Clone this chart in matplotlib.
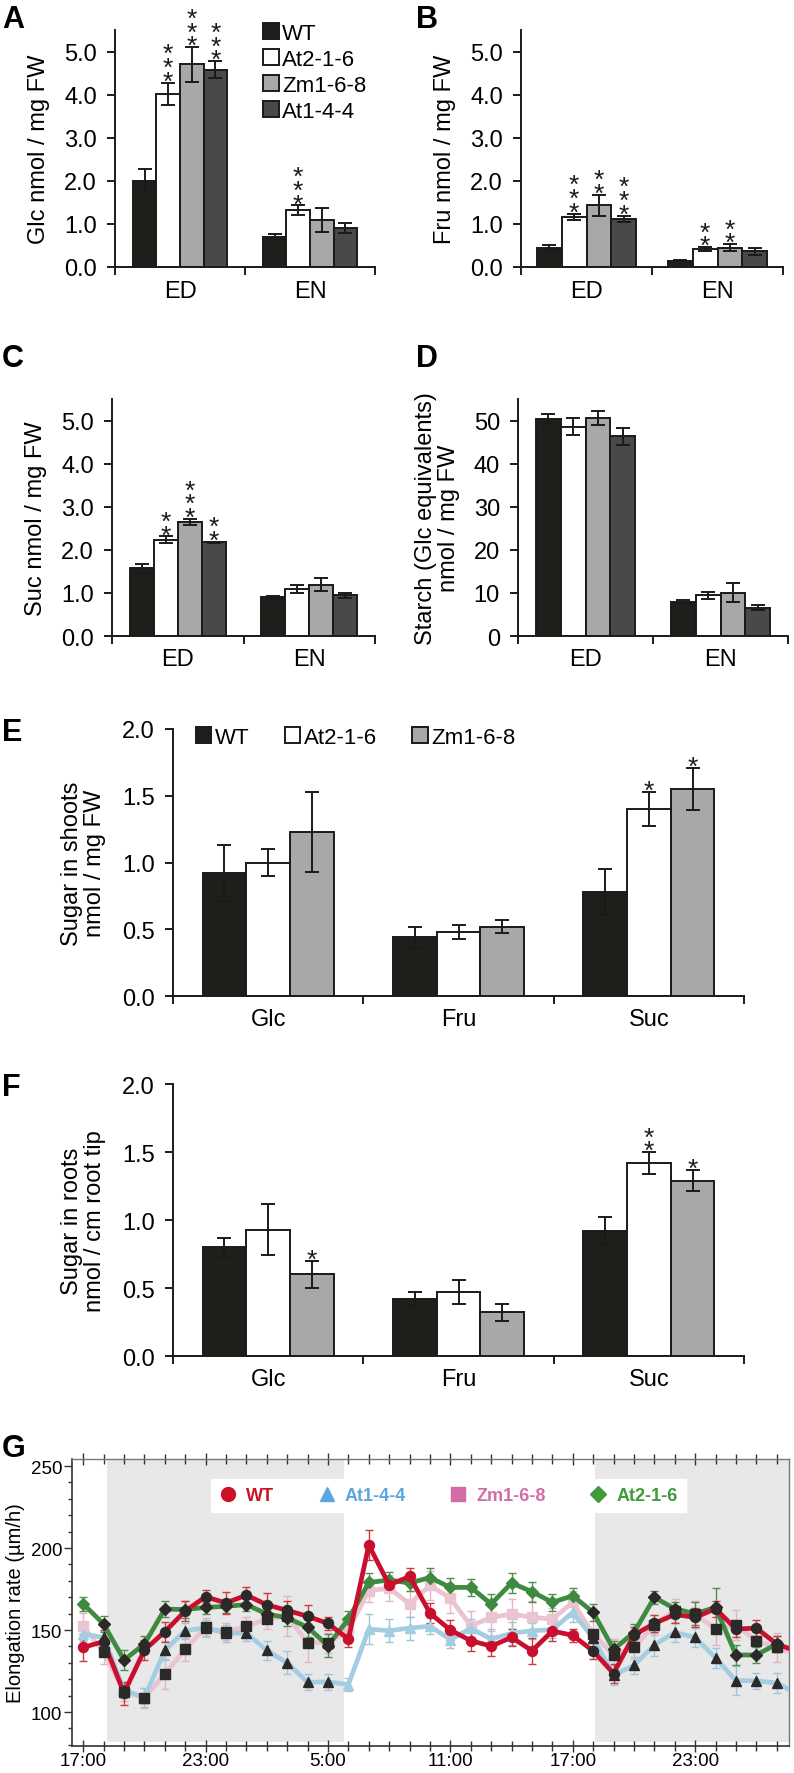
import numpy as np
import matplotlib
matplotlib.use('Agg')
import matplotlib.pyplot as plt
from matplotlib.lines import Line2D
from matplotlib.ticker import MultipleLocator

plt.rcParams['font.family'] = ['Liberation Sans', 'DejaVu Sans']

W, H = 794, 1774

# ---------------- data ----------------
# A-D: leaf sugars at end of day (ED) / end of night (EN)
leaf_lines = ['WT', 'At2-1-6', 'Zm1-6-8', 'At1-4-4']
periods = ['ED', 'EN']

glc = [[2.00, 4.02, 4.70, 4.58], [0.70, 1.32, 1.10, 0.90]]
glc_err = [[0.27, 0.26, 0.40, 0.20], [0.07, 0.11, 0.28, 0.11]]
glc_stars = [[0, 3, 3, 3], [0, 3, 0, 0]]

fru = [[0.45, 1.17, 1.43, 1.12], [0.15, 0.41, 0.45, 0.36]]
fru_err = [[0.07, 0.07, 0.25, 0.07], [0.02, 0.05, 0.08, 0.09]]
fru_stars = [[0, 3, 2, 3], [0, 2, 2, 0]]

suc = [[1.57, 2.23, 2.65, 2.17], [0.90, 1.09, 1.19, 0.94]]
suc_err = [[0.10, 0.08, 0.07, 0.02], [0.03, 0.09, 0.15, 0.06]]
suc_stars = [[0, 2, 3, 2], [0, 0, 0, 0]]

starch = [[50.4, 48.6, 50.5, 46.3], [8.0, 9.5, 10.0, 6.6]]
starch_err = [[1.1, 2.0, 1.6, 1.9], [0.3, 0.8, 2.2, 0.5]]
starch_stars = [[0, 0, 0, 0], [0, 0, 0, 0]]

# E-F: sugars in shoots / roots
seed_lines = ['WT', 'At2-1-6', 'Zm1-6-8']
sugars = ['Glc', 'Fru', 'Suc']

shoots = [[0.92, 1.00, 1.23], [0.44, 0.48, 0.52], [0.78, 1.40, 1.55]]
shoots_err = [[0.21, 0.10, 0.30], [0.08, 0.05, 0.05], [0.17, 0.13, 0.16]]
shoots_stars = [[0, 0, 0], [0, 0, 0], [0, 1, 1]]

roots = [[0.80, 0.93, 0.60], [0.42, 0.47, 0.32], [0.92, 1.42, 1.29]]
roots_err = [[0.07, 0.19, 0.10], [0.05, 0.09, 0.06], [0.10, 0.08, 0.08]]
roots_stars = [[0, 0, 1], [0, 0, 0], [0, 2, 1]]

# G: root elongation rate, hourly from 17:00
hours = np.arange(36)
night_spans = [(1.17, 12.8), (25.1, 36.0)]
time_labels = ['17:00', '23:00', '5:00', '11:00', '17:00', '23:00']

wt_rate = [139.4, 143.0, 111.6, 137.8, 149.0, 161.6, 170.3, 166.5, 171.3, 165.4, 162.0, 158.4,
           154.0, 144.5, 201.8, 177.5, 182.7, 160.3, 150.0, 143.5, 140.2, 145.5, 137.4, 149.4,
           146.8, 137.2, 123.5, 147.0, 154.0, 159.5, 157.7, 163.0, 150.6, 151.2, 141.5, 137.0]
wt_se = [8, 7, 7, 6, 6, 6, 4, 7, 5, 7, 6, 7, 4, 5, 9, 4, 5, 6, 6, 6, 6, 5, 8, 6,
         4, 5, 6, 5, 5, 5, 6, 5, 5, 5, 5, 5]

at1_rate = [147.6, 145.5, 113.5, 108.8, 137.6, 149.6, 151.4, 148.0, 148.2, 137.6, 130.0, 118.2,
            118.4, 116.8, 150.6, 149.6, 151.2, 152.4, 144.2, 151.0, 144.5, 148.0, 149.6, 150.2,
            160.8, 145.0, 122.5, 128.5, 140.9, 148.6, 145.5, 133.0, 119.1, 119.1, 117.7, 111.0]
at1_se = [4, 4, 5, 6, 6, 5, 5, 5, 5, 6, 7, 5, 5, 4, 9, 7, 7, 5, 5, 6, 6, 7, 5, 5,
          6, 5, 6, 5, 7, 6, 6, 6, 9, 5, 6, 5]

zm_rate = [152.2, 136.5, 112.5, 108.6, 123.2, 138.4, 151.6, 149.0, 152.2, 156.8, 158.5, 142.3,
           142.3, 150.0, 174.0, 175.5, 165.9, 177.2, 169.3, 152.6, 157.7, 159.8, 157.7, 156.7,
           166.9, 147.6, 134.8, 139.4, 153.2, 161.8, 159.8, 150.6, 153.0, 143.5, 139.4, 135.0]
zm_se = [8, 7, 6, 6, 9, 7, 6, 5, 6, 6, 12, 12, 6, 6, 7, 8, 8, 9, 9, 9, 8, 9, 10, 7,
         7, 12, 10, 7, 6, 7, 8, 10, 9, 8, 9, 6]

at2_rate = [165.9, 153.7, 131.7, 141.5, 162.8, 162.5, 163.8, 164.5, 165.5, 159.8, 157.5, 151.7,
            140.5, 156.7, 179.0, 180.5, 178.7, 182.0, 176.0, 176.0, 165.9, 178.7, 173.4, 166.9,
            170.9, 160.8, 138.2, 148.5, 169.9, 163.0, 160.0, 163.8, 134.8, 134.8, 141.5, np.nan]
at2_se = [4, 5, 6, 5, 5, 5, 4, 4, 4, 5, 5, 6, 7, 5, 6, 5, 5, 6, 6, 5, 6, 6, 6, 5,
          5, 5, 5, 5, 4, 4, 7, 12, 6, 5, 5, 5]

bar4_colors = ['#1f1e1b', '#ffffff', '#a9a8a6', '#4a4947']
bar3_colors = bar4_colors[:3]
ink = '#1a1a1a'


def rect(l, t, r, b):
    return [l / W, 1 - b / H, (r - l) / W, (b - t) / H]


def bar_panel(ax, cats, vals, errs, stars, colors, width, ylim, ystep, fmt, ylabel, labelpad,
              labels=None):
    n = len(colors)
    for i in range(len(cats)):
        for j in range(n):
            x = i + 0.5 + (j - (n - 1) / 2) * width
            v, e = vals[i][j], errs[i][j]
            ax.bar(x, v, width, color=colors[j], edgecolor=ink, lw=1.4, zorder=2,
                   label=labels[j] if (labels and i == 0) else None)
            ax.errorbar(x, v, yerr=e, fmt='none', ecolor=ink, elinewidth=1.4, capsize=5,
                        capthick=1.4, zorder=3)
            if stars[i][j]:
                # stacked significance stars, one text
                ax.annotate('\n'.join(['*'] * stars[i][j]), (x, v + e), xytext=(0, -8),
                            textcoords='offset points', ha='center', va='bottom',
                            fontsize=19, linespacing=0.46, color=ink)
    ax.set_xlim(0, len(cats))
    ax.set_ylim(*ylim)
    ax.yaxis.set_major_locator(MultipleLocator(ystep))
    ax.yaxis.set_major_formatter(fmt)
    ax.set_xticks(np.arange(len(cats) + 1))
    ax.set_xticklabels([])
    ax.set_xticks(np.arange(len(cats)) + 0.5, minor=True)
    ax.set_xticklabels(cats, minor=True)
    ax.tick_params(axis='x', which='major', direction='out', length=6, width=1.4, color=ink)
    ax.tick_params(axis='x', which='minor', length=0, pad=9, labelsize=17)
    ax.tick_params(axis='y', direction='out', length=6, width=1.4, color=ink, pad=7, labelsize=17)
    for s in ['top', 'right']:
        ax.spines[s].set_visible(False)
    for s in ['left', 'bottom']:
        ax.spines[s].set_linewidth(1.4)
        ax.spines[s].set_color(ink)
    ax.set_ylabel(ylabel, fontsize=17, labelpad=labelpad, linespacing=1.05)


fig = plt.figure(figsize=(W / 100, H / 100), dpi=100)

axA = fig.add_axes(rect(115, 31, 375, 268))
bar_panel(axA, periods, glc, glc_err, glc_stars, bar4_colors, 0.182, (0, 5.5), 1.0, '{x:.1f}',
          'Glc nmol / mg FW', 10, labels=leaf_lines)
axA.legend(loc='upper left', bbox_to_anchor=(0.57, 1.03), frameon=False, fontsize=16,
           handlelength=0.7, handleheight=0.7, handletextpad=0.15, labelspacing=0.22,
           borderpad=0, borderaxespad=0)

axB = fig.add_axes(rect(521, 31, 783, 268))
bar_panel(axB, periods, fru, fru_err, fru_stars, bar4_colors, 0.19, (0, 5.5), 1.0, '{x:.1f}',
          'Fru nmol / mg FW', 10)

axC = fig.add_axes(rect(112, 400, 375, 637))
bar_panel(axC, periods, suc, suc_err, suc_stars, bar4_colors, 0.182, (0, 5.5), 1.0, '{x:.1f}',
          'Suc nmol / mg FW', 10)

axD = fig.add_axes(rect(518, 400, 788, 637))
bar_panel(axD, periods, starch, starch_err, starch_stars, bar4_colors, 0.185, (0, 55), 10, '{x:.0f}',
          'Starch (Glc equivalents)\nnmol / mg FW', 10)

axE = fig.add_axes(rect(173, 730, 744, 997))
bar_panel(axE, sugars, shoots, shoots_err, shoots_stars, bar3_colors, 0.23, (0, 2.0), 0.5, '{x:.1f}',
          'Sugar in shoots\nnmol / mg FW', 12, labels=seed_lines)
axE.legend(loc='center left', bbox_to_anchor=(0.04, 0.97), frameon=False, fontsize=16, ncol=3,
           handlelength=0.7, handleheight=0.7, handletextpad=0.15, columnspacing=1.6,
           borderpad=0, borderaxespad=0)

axF = fig.add_axes(rect(173, 1085, 744, 1357))
bar_panel(axF, sugars, roots, roots_err, roots_stars, bar3_colors, 0.23, (0, 2.0), 0.5, '{x:.1f}',
          'Sugar in roots\nnmol / cm root tip', 12)

# ---------------- G: time course ----------------
axG = fig.add_axes(rect(72, 1460, 789, 1747))
for a, b in night_spans:
    axG.axvspan(a, b, ymin=0.015, ymax=0.995, color='#e8e8e8', lw=0, zorder=0)

night = np.zeros(len(hours), bool)
for a, b in night_spans:
    night |= (hours >= a - 0.2) & (hours <= b - 0.7)

series = [
    ('Zm1-6-8', zm_rate, zm_se, 's', '#ebc4d2', '#e3b4c5', 3),
    ('At1-4-4', at1_rate, at1_se, '^', '#a4cde2', '#9cc6da', 4),
    ('At2-1-6', at2_rate, at2_se, 'D', '#3f8a3f', '#4f8f4f', 5),
    ('WT', wt_rate, wt_se, 'o', '#c8102e', '#cc3a40', 6),
]
for name, vals, se, mk, lc, ec, z in series:
    vals = np.asarray(vals, float)
    axG.errorbar(hours, vals, yerr=se, fmt='none', ecolor=ec, elinewidth=1.0, capsize=3,
                 capthick=1.0, zorder=2)
    axG.plot(hours, vals, color=lc, lw=3.4, zorder=z, solid_capstyle='butt')
    ms = 6.0 if mk == 'D' else 7.2
    axG.plot(hours[~night], vals[~night], ls='none', marker=mk, ms=ms, color=lc, mec=lc, zorder=z + 0.5)
    axG.plot(hours[night], vals[night], ls='none', marker=mk, ms=ms, color='#2b2a29', mec='#2b2a29',
             zorder=8)

axG.set_xlim(-0.55, 34.6)
axG.set_ylim(79.3, 254.3)
axG.set_xticks(np.arange(0, 31, 6))
axG.set_xticklabels(time_labels)
axG.xaxis.set_minor_locator(MultipleLocator(1))
axG.yaxis.set_major_locator(MultipleLocator(50))
axG.yaxis.set_minor_locator(MultipleLocator(10))
axG.tick_params(axis='y', which='major', direction='out', length=6, width=1, color='#333333',
                labelsize=13.5, pad=1)
axG.tick_params(axis='y', which='minor', direction='out', length=3, width=1, color='#333333')
axG.tick_params(axis='x', which='major', direction='inout', length=9, width=1, color='#333333',
                labelsize=13.5, pad=0, top=True)
axG.tick_params(axis='x', which='minor', direction='inout', length=7, width=1, color='#333333',
                top=True)
for s in ['left', 'bottom']:
    axG.spines[s].set_color('#333333')
    axG.spines[s].set_linewidth(1.2)
for s in ['top', 'right']:
    axG.spines[s].set_color('#777777')
    axG.spines[s].set_linewidth(1.0)
axG.set_ylabel('Elongation rate (µm/h)', fontsize=14.5, labelpad=4)

leg_items = [('WT', 'o', '#cc1126'), ('At1-4-4', '^', '#5ba8de'),
             ('Zm1-6-8', 's', '#d36ca6'), ('At2-1-6', 'D', '#3f9b39')]
handles = [Line2D([], [], ls='none', marker=m, ms=(10 if m != 'D' else 8), color=c)
           for _, m, c in leg_items]
leg = axG.legend(handles, [t for t, _, _ in leg_items], loc='center', bbox_to_anchor=(0.525, 0.873),
                 ncol=4, frameon=True, fancybox=False, framealpha=1, edgecolor='white',
                 prop={'weight': 'bold', 'size': 13}, handlelength=1.0, handletextpad=0.5,
                 columnspacing=2.4, borderpad=0.45)
leg.set_zorder(9)
for txt, (_, _, c) in zip(leg.get_texts(), leg_items):
    txt.set_color(c)

# panel letters
for letter, x, y in [('A', 2, 5), ('B', 416, 5), ('C', 2, 344), ('D', 416, 344),
                     ('E', 2, 718), ('F', 2, 1073), ('G', 2, 1434)]:
    fig.text(x / W, 1 - y / H, letter, fontsize=22, fontweight='bold', ha='left', va='top')

fig.savefig('out.png', dpi=100)
